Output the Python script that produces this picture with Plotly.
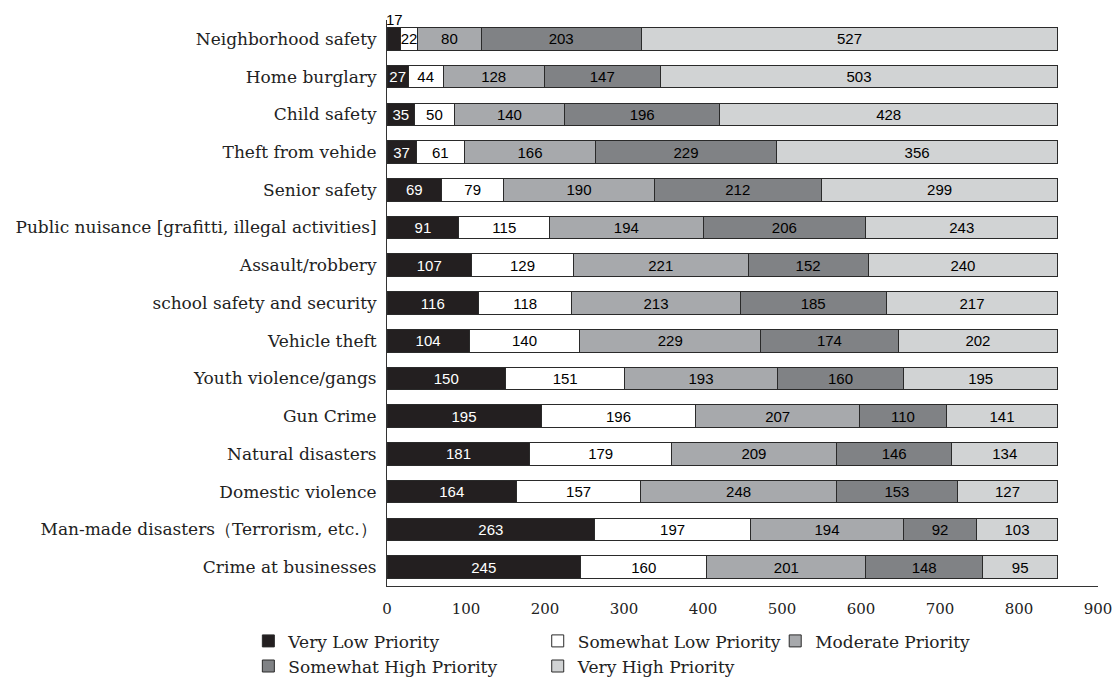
import plotly.graph_objects as go

categories = [
    "Neighborhood safety", "Home burglary", "Child safety", "Theft from vehide",
    "Senior safety", "Public nuisance [grafitti, illegal activities]", "Assault/robbery",
    "school safety and security", "Vehicle theft", "Youth violence/gangs", "Gun Crime",
    "Natural disasters", "Domestic violence", "Man-made disasters（Terrorism, etc.）",
    "Crime at businesses",
]
very_low = [17, 27, 35, 37, 69, 91, 107, 116, 104, 150, 195, 181, 164, 263, 245]
somewhat_low = [22, 44, 50, 61, 79, 115, 129, 118, 140, 151, 196, 179, 157, 197, 160]
moderate = [80, 128, 140, 166, 190, 194, 221, 213, 229, 193, 207, 209, 248, 194, 201]
somewhat_high = [203, 147, 196, 229, 212, 206, 152, 185, 174, 160, 110, 146, 153, 92, 148]
very_high = [527, 503, 428, 356, 299, 243, 240, 217, 202, 195, 141, 134, 127, 103, 95]
x_ticks = [0, 100, 200, 300, 400, 500, 600, 700, 800, 900]

series = [
    ("Very Low Priority", very_low, "#231f20", "white", "legend"),
    ("Somewhat Low Priority", somewhat_low, "#ffffff", "black", "legend2"),
    ("Moderate Priority", moderate, "#a7a9ac", "black", "legend3"),
    ("Somewhat High Priority", somewhat_high, "#808285", "black", "legend"),
    ("Very High Priority", very_high, "#d1d3d4", "black", "legend2"),
]

SERIF = "DejaVu Serif"
SANS = "Liberation Sans"

fig = go.Figure()
for i, (name, vals, color, tcolor, lg) in enumerate(series):
    texts = [str(v) for v in vals]
    if i == 0:
        texts[0] = ""  # shown outside, above the bar
    fig.add_trace(go.Bar(
        y=categories, x=vals, name=name, orientation="h",
        marker=dict(color=color, line=dict(color="#2a2a2a", width=1)),
        text=texts, textposition="inside", insidetextanchor="middle",
        textangle=0, constraintext="none",
        textfont=dict(family=SANS, size=15, color=tcolor),
        legend=lg, hoverinfo="x+name",
    ))

fig.add_annotation(x=0, y=categories[0], text=str(very_low[0]),
                   xref="x", yref="y", xanchor="left", yanchor="bottom",
                   yshift=9, xshift=-3, showarrow=False,
                   font=dict(family=SANS, size=15, color="black"))

legend_common = dict(orientation="v", xref="paper", yref="paper",
                     font=dict(family=SERIF, size=17, color="#222"),
                     bgcolor="rgba(0,0,0,0)", tracegroupgap=0,
                     traceorder="normal",
                     yanchor="top", itemwidth=30)

fig.update_layout(
    width=1114, height=679,
    margin=dict(l=387, r=16, t=20, b=93, autoexpand=False),
    paper_bgcolor="white", plot_bgcolor="white",
    barmode="stack", bargap=0.4,
    xaxis=dict(range=[0, 900], tickvals=x_ticks, showgrid=False, zeroline=False,
               showline=True, linecolor="#333", linewidth=1,
               ticklabelstandoff=9,
               tickfont=dict(family=SERIF, size=15, color="#222"), ticks=""),
    yaxis=dict(autorange="reversed", showgrid=False, showline=True, linecolor="#333",
               linewidth=1, ticks="", ticklabelstandoff=6,
               tickfont=dict(family=SERIF, size=17, color="#222")),
    legend=dict(x=-0.195, y=-0.066, **legend_common),
    legend2=dict(x=0.212, y=-0.066, **legend_common),
    legend3=dict(x=0.546, y=-0.066, **legend_common),
    showlegend=True,
)

fig.write_html("out.html")
